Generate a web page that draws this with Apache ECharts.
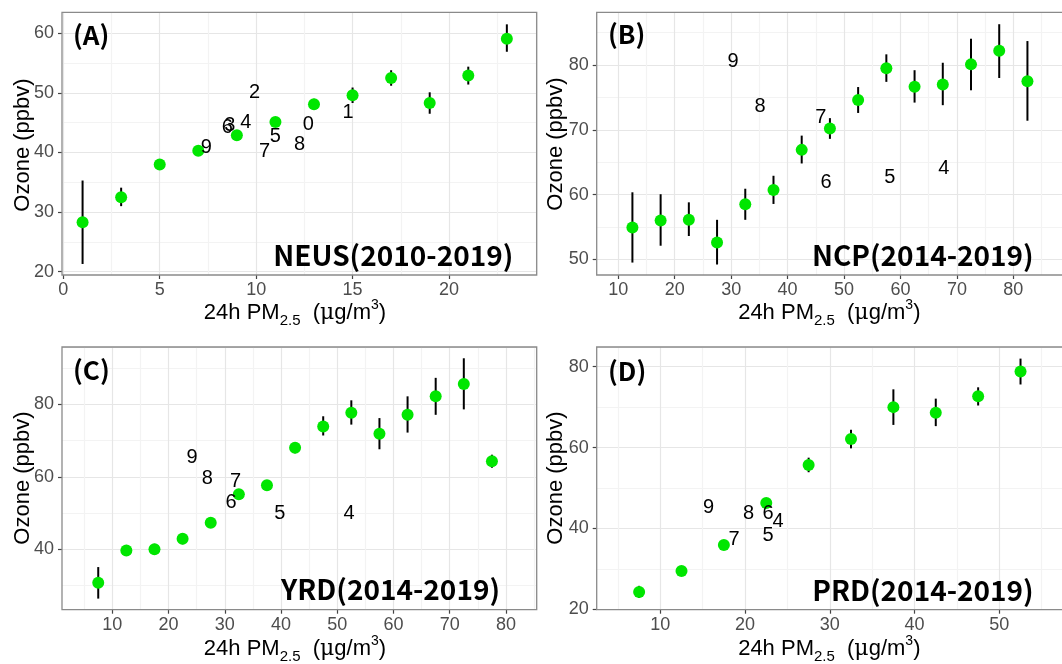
<!DOCTYPE html>
<html>
<head>
<meta charset="utf-8">
<script src="https://cdn.jsdelivr.net/npm/echarts@6/dist/echarts.min.js"></script>
<style>
  html, body { margin: 0; padding: 0; background: #fff; }
  #chart { width: 1062px; height: 664px; }
</style>
</head>
<body>
<div id="chart"></div>
<script>
// (A) NEUS
const neusPm = [1, 3, 5, 7, 9, 11, 13, 15, 17, 19, 21, 23]
const neusO3 = [28.3, 32.5, 38.0, 40.3, 42.9, 45.1, 48.1, 49.6, 52.5, 48.3, 52.9, 59.1]
const neusLo = [21.3, 31.0, 37.3, 39.7, 42.1, 44.6, 47.2, 48.3, 51.2, 46.5, 51.4, 56.9]
const neusHi = [35.3, 34.1, 38.7, 40.9, 43.7, 45.6, 49.0, 50.9, 53.8, 50.1, 54.4, 61.5]
const neusYearPm = [12.7, 14.76, 9.92, 8.63, 9.46, 11.0, 8.5, 10.44, 12.25, 7.42]
const neusYearO3 = [44.7, 46.7, 50.1, 44.6, 45.0, 42.65, 44.2, 40.1, 41.4, 40.8]
const neusYearTag = ['0', '1', '2', '3', '4', '5', '6', '7', '8', '9']
const neusXTicks = [0, 5, 10, 15, 20]
const neusYTicks = [20, 30, 40, 50, 60]

// (B) NCP
const ncpPm = [12.5, 17.5, 22.5, 27.5, 32.5, 37.5, 42.5, 47.5, 52.5, 57.5, 62.5, 67.5, 72.5, 77.5, 82.5]
const ncpO3 = [54.9, 56.0, 56.1, 52.6, 58.5, 60.7, 66.9, 70.2, 74.6, 79.5, 76.65, 77.0, 80.1, 82.2, 77.5]
const ncpLo = [49.5, 52.1, 53.6, 49.2, 56.1, 58.55, 64.8, 68.6, 72.6, 77.4, 74.2, 73.8, 76.1, 78.0, 71.4]
const ncpHi = [60.35, 60.05, 58.8, 56.1, 60.9, 62.9, 69.1, 71.8, 76.6, 81.65, 79.2, 80.35, 84.06, 86.3, 83.7]
const ncpYearPm = [30.35, 35.1, 45.9, 46.8, 58.1, 67.7]
const ncpYearO3 = [80.6, 73.6, 71.9, 61.8, 62.7, 64.0]
const ncpYearTag = ['9', '8', '7', '6', '5', '4']
const ncpXTicks = [10, 20, 30, 40, 50, 60, 70, 80]
const ncpYTicks = [50, 60, 70, 80]

// (C) YRD
const yrdPm = [7.5, 12.5, 17.5, 22.5, 27.5, 32.5, 37.5, 42.5, 47.5, 52.5, 57.5, 62.5, 67.5, 72.5, 77.5]
const yrdO3 = [30.8, 39.7, 40.0, 42.9, 47.3, 55.2, 57.7, 68.0, 73.9, 77.7, 71.9, 77.1, 82.2, 85.6, 64.3]
const yrdLo = [26.4, 38.3, 38.5, 41.4, 46.7, 54.4, 56.5, 66.5, 71.4, 74.4, 67.6, 72.2, 77.1, 78.6, 62.5]
const yrdHi = [35.1, 41.2, 41.5, 44.5, 47.9, 56.0, 58.9, 69.6, 76.7, 81.1, 76.2, 82.2, 87.3, 92.7, 66.1]
const yrdYearPm = [24.2, 26.9, 31.9, 31.1, 39.8, 52.1]
const yrdYearO3 = [65.2, 59.5, 58.8, 52.9, 49.8, 49.8]
const yrdYearTag = ['9', '8', '7', '6', '5', '4']
const yrdXTicks = [10, 20, 30, 40, 50, 60, 70, 80]
const yrdYTicks = [40, 60, 80]

// (D) PRD
const prdPm = [7.5, 12.5, 17.5, 22.5, 27.5, 32.5, 37.5, 42.5, 47.5, 52.5]
const prdO3 = [24.3, 29.5, 35.9, 46.3, 55.7, 62.1, 70.0, 68.6, 72.7, 78.8]
const prdLo = [22.8, 29.1, 35.5, 45.9, 53.9, 59.8, 65.6, 65.3, 70.4, 75.6]
const prdHi = [25.8, 29.9, 36.3, 46.7, 57.5, 64.4, 74.4, 72.1, 74.9, 82.0]
const prdYearPm = [15.7, 20.4, 22.7, 23.9, 22.7, 18.7]
const prdYearO3 = [45.3, 43.6, 43.6, 41.8, 38.3, 37.2]
const prdYearTag = ['9', '8', '6', '4', '5', '7']
const prdXTicks = [10, 20, 30, 40, 50]
const prdYTicks = [20, 40, 60, 80]

const FONT = '"Liberation Sans", Arial, sans-serif'
const BOLD_FONT = '"Noto Sans CJK SC", "Noto Sans", sans-serif'
const GREEN = '#00e600'
const MAJOR = '#e6e6e6'
const MINOR = '#f3f3f3'

const panels = [
  {
    tag: '(A)', region: 'NEUS(2010-2019)',
    pm: neusPm, o3: neusO3, lo: neusLo, hi: neusHi,
    yearPm: neusYearPm, yearO3: neusYearO3, yearTag: neusYearTag,
    xTicks: neusXTicks, yTicks: neusYTicks,
    box: [62, 12.3, 536.7, 275], xr: [-0.067, 24.548], yr: [19.45, 63.52],
    xStep: 2.5, yStep: 5, xMajor: 5, yMajor: 10,
    tagPos: [73, 35], regionPos: [513.3, 255], xTitlePos: [295, 313], yTitlePos: [23.3, 145],
  },
  {
    tag: '(B)', region: 'NCP(2014-2019)',
    pm: ncpPm, o3: ncpO3, lo: ncpLo, hi: ncpHi,
    yearPm: ncpYearPm, yearO3: ncpYearO3, yearTag: ncpYearTag,
    xTicks: ncpXTicks, yTicks: ncpYTicks,
    box: [596.7, 12.3, 1064, 275], xr: [6.172, 88.98], yr: [47.58, 88.14],
    xStep: 5, yStep: 5, xMajor: 10, yMajor: 10,
    tagPos: [608, 34], regionPos: [1033.7, 255], xTitlePos: [829.3, 313], yTitlePos: [556, 144],
  },
  {
    tag: '(C)', region: 'YRD(2014-2019)',
    pm: yrdPm, o3: yrdO3, lo: yrdLo, hi: yrdHi,
    yearPm: yrdYearPm, yearO3: yrdYearO3, yearTag: yrdYearTag,
    xTicks: yrdXTicks, yTicks: yrdYTicks,
    box: [62, 347, 536.7, 609.7], xr: [1.057, 85.46], yr: [23.34, 95.81],
    xStep: 5, yStep: 10, xMajor: 10, yMajor: 20,
    tagPos: [73, 370.3], regionPos: [500, 589.3], xTitlePos: [295, 649], yTitlePos: [23.3, 478],
  },
  {
    tag: '(D)', region: 'PRD(2014-2019)',
    pm: prdPm, o3: prdO3, lo: prdLo, hi: prdHi,
    yearPm: prdYearPm, yearO3: prdYearO3, yearTag: prdYearTag,
    xTicks: prdXTicks, yTicks: prdYTicks,
    box: [596.7, 347, 1064, 609.7], xr: [2.495, 57.63], yr: [19.9, 84.87],
    xStep: 5, yStep: 10, xMajor: 10, yMajor: 20,
    tagPos: [608, 371.3], regionPos: [1033.7, 590.3], xTitlePos: [829.3, 649], yTitlePos: [556, 478],
  },
]

const isMultiple = (v, step) => Math.abs(v / step - Math.round(v / step)) < 1e-6

const option = {
  animation: false,
  backgroundColor: '#fff',
  grid: [],
  xAxis: [],
  yAxis: [],
  series: [],
  graphic: [],
}

panels.forEach(p => {
  const [L, T, R, B] = p.box
  const px = v => L + (v - p.xr[0]) / (p.xr[1] - p.xr[0]) * (R - L)
  const py = v => B - (v - p.yr[0]) / (p.yr[1] - p.yr[0]) * (B - T)
  // first gridline value inside the panel (axis min must be a multiple of interval)
  const xs = Math.ceil(p.xr[0] / p.xStep - 1e-9) * p.xStep
  const ys = Math.ceil(p.yr[0] / p.yStep - 1e-9) * p.yStep

  // grid V: vertical gridlines, x labels, data
  const gV = option.grid.length
  option.grid.push({ left: px(xs), top: T, width: R - px(xs), height: B - T, containLabel: false, outerBoundsMode: 'none' })
  // grid H: horizontal gridlines, y labels
  const gH = gV + 1
  option.grid.push({ left: L, top: T, width: R - L, height: py(ys) - T, containLabel: false, outerBoundsMode: 'none' })

  const xGridAxis = option.xAxis.length
  option.xAxis.push({
    type: 'value', gridIndex: gV, position: 'top', min: xs, max: p.xr[1], interval: p.xStep,
    axisLine: { show: false }, axisTick: { show: false }, axisLabel: { show: false },
    splitLine: { show: true, lineStyle: { color: isMultiple(xs, p.xMajor) ? [MAJOR, MINOR] : [MINOR, MAJOR], width: 1.2 } },
  })
  option.xAxis.push({
    type: 'value', gridIndex: gV, position: 'bottom', min: xs, max: p.xr[1],
    axisLine: { show: false }, splitLine: { show: false },
    axisTick: { show: true, customValues: p.xTicks, length: 4, lineStyle: { color: '#444', width: 1.2 } },
    axisLabel: { show: true, customValues: p.xTicks, color: '#4d4d4d', fontSize: 18, fontFamily: FONT, margin: 6 },
  })
  option.xAxis.push({ type: 'value', gridIndex: gH, min: p.xr[0], max: p.xr[1], show: false })

  const yDataAxis = option.yAxis.length
  option.yAxis.push({ type: 'value', gridIndex: gV, min: p.yr[0], max: p.yr[1], show: false })
  option.yAxis.push({
    type: 'value', gridIndex: gH, position: 'right', min: ys, max: p.yr[1], interval: p.yStep,
    axisLine: { show: false }, axisTick: { show: false }, axisLabel: { show: false },
    splitLine: { show: true, lineStyle: { color: isMultiple(ys, p.yMajor) ? [MAJOR, MINOR] : [MINOR, MAJOR], width: 1.2 } },
  })
  option.yAxis.push({
    type: 'value', gridIndex: gH, position: 'left', min: ys, max: p.yr[1],
    axisLine: { show: false }, splitLine: { show: false },
    axisTick: { show: true, customValues: p.yTicks, length: 4, lineStyle: { color: '#444', width: 1.2 } },
    axisLabel: { show: true, customValues: p.yTicks, color: '#4d4d4d', fontSize: 18, fontFamily: FONT, margin: 8 },
  })

  // error bars
  option.series.push({
    type: 'custom', xAxisIndex: xGridAxis, yAxisIndex: yDataAxis, z: 3, silent: true,
    data: p.pm.map((x, i) => [x, p.lo[i], p.hi[i]]),
    renderItem: (params, api) => {
      const a = api.coord([api.value(0), api.value(1)])
      const b = api.coord([api.value(0), api.value(2)])
      return { type: 'line', shape: { x1: a[0], y1: a[1], x2: b[0], y2: b[1] }, style: { stroke: '#000', lineWidth: 2 } }
    },
  })
  // means
  option.series.push({
    type: 'scatter', xAxisIndex: xGridAxis, yAxisIndex: yDataAxis, z: 4, silent: true,
    symbolSize: 12, itemStyle: { color: GREEN, opacity: 1 },
    data: p.pm.map((x, i) => [x, p.o3[i]]),
  })
  // annual means, labelled by last digit of the year
  option.series.push({
    type: 'custom', xAxisIndex: xGridAxis, yAxisIndex: yDataAxis, z: 5, silent: true,
    data: p.yearPm.map((x, i) => [x, p.yearO3[i], p.yearTag[i]]),
    renderItem: (params, api) => {
      const c = api.coord([api.value(0), api.value(1)])
      return {
        type: 'text', x: c[0], y: c[1],
        style: { text: String(api.value(2)), fontSize: 20, fontFamily: FONT, fill: '#000', align: 'center', verticalAlign: 'middle' },
      }
    },
  })

  // panel frame + texts
  option.graphic.push({
    type: 'rect', silent: true, z: 50,
    shape: { x: L, y: T, width: R - L, height: B - T },
    style: { fill: null, stroke: '#8a8a8a', lineWidth: 1.3 },
  })
  option.graphic.push({
    type: 'text', x: p.tagPos[0], y: p.tagPos[1], z: 50, silent: true,
    style: { text: p.tag, fontSize: 26, fontWeight: 'bold', fontFamily: BOLD_FONT, fill: '#000', align: 'left', verticalAlign: 'middle' },
  })
  option.graphic.push({
    type: 'text', x: p.regionPos[0], y: p.regionPos[1], z: 50, silent: true,
    style: { text: p.region, fontSize: 28, fontWeight: 'bold', fontFamily: BOLD_FONT, fill: '#000', align: 'right', verticalAlign: 'middle' },
  })
  option.graphic.push({
    type: 'text', x: p.xTitlePos[0], y: p.xTitlePos[1], z: 50, silent: true,
    style: {
      text: '24h PM{sub|2.5}  ({mu|μ}g/m{sup|3})',
      fontSize: 22, fontFamily: FONT, fill: '#000', lineHeight: 30, align: 'center', verticalAlign: 'middle',
      rich: {
        sub: { fontSize: 15, lineHeight: 19, verticalAlign: 'bottom', fontFamily: FONT, fill: '#000' },
        sup: { fontSize: 14, lineHeight: 16, verticalAlign: 'top', fontFamily: FONT, fill: '#000' },
        mu: { fontSize: 22, lineHeight: 30, fontFamily: '"DejaVu Serif", serif', fill: '#000' },
      },
    },
  })
  option.graphic.push({
    type: 'text', x: p.yTitlePos[0], y: p.yTitlePos[1], rotation: Math.PI / 2, z: 50, silent: true,
    style: { text: 'Ozone (ppbv)', fontSize: 22, fontFamily: FONT, fill: '#000', align: 'center', verticalAlign: 'middle' },
  })
})

const chart = echarts.init(document.getElementById('chart'), null, { renderer: 'canvas' })
chart.setOption(option)
</script>
</body>
</html>
